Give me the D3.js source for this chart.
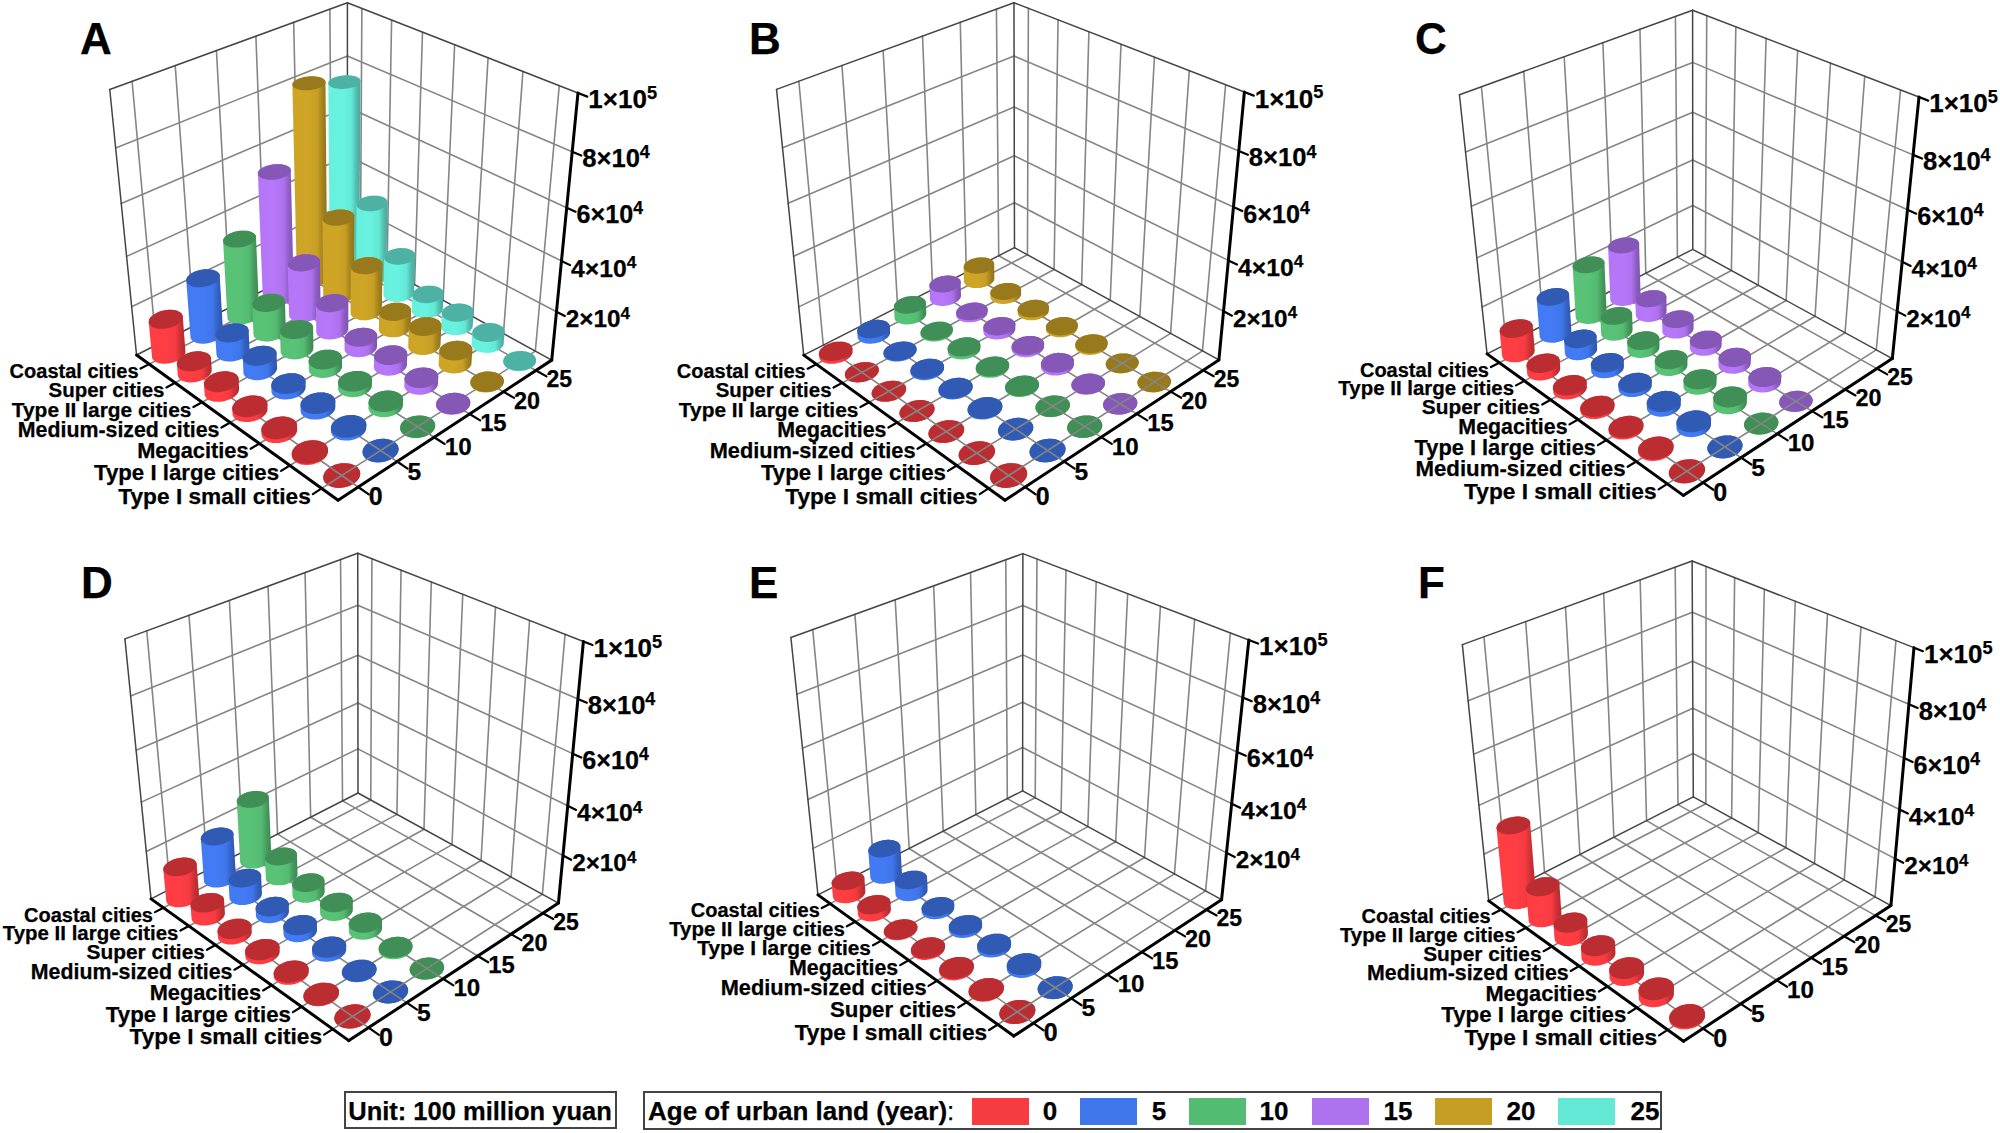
<!DOCTYPE html>
<html><head><meta charset="utf-8">
<script src="https://cdn.jsdelivr.net/npm/d3@7"></script>
<style>html,body{margin:0;padding:0;background:#fff}svg{display:block}text{font-family:"Liberation Sans",Arial,sans-serif;font-weight:700;fill:#000;stroke:#000;stroke-width:.25px}</style>
</head><body><div id="chart"></div>
<script>
const AGES=[0,5,10,15,20,25];
const AGE_COLORS=["#f63b41","#3f76ea","#54bb72","#ae72ee","#c69e24","#64e8d6"];
const ZTICKS=[20000,40000,60000,80000];
const ZMAX=100000;
const catsA=["Coastal cities","Super cities","Type II large cities","Medium-sized cities","Megacities","Type I large cities","Type I small cities"];
const catsB=["Coastal cities","Super cities","Type II large cities","Megacities","Medium-sized cities","Type I large cities","Type I small cities"];
const catsC=["Coastal cities","Type II large cities","Super cities","Megacities","Type I large cities","Medium-sized cities","Type I small cities"];
const catsD=["Coastal cities","Type II large cities","Super cities","Medium-sized cities","Megacities","Type I large cities","Type I small cities"];
const catsE=["Coastal cities","Type II large cities","Type I large cities","Megacities","Medium-sized cities","Super cities","Type I small cities"];
const catsF=catsD;
// one row per age, one value per city type (100 million yuan)
const valuesA=[
 [14500,4600,4000,2000,1600,500,50],
 [23500,8000,6000,2300,2300,1200,50],
 [32000,12500,8500,3500,2300,2100,50],
 [52000,21500,11500,4400,4400,2800,200],
 [80000,33000,19500,7000,8000,5400,200],
 [75000,32000,16000,6500,5800,4600,200]];
const valuesB=[
 [1200,100,100,100,100,50,50],
 [2300,350,600,350,350,50,50],
 [4600,600,1200,600,350,50,50],
 [5800,900,1700,900,1200,200,50],
 [6300,1700,1200,800,700,50,50]];
const valuesC=[
 [10500,3200,1700,900,700,600,50],
 [16000,5200,2500,1700,2000,2000,50],
 [22000,6900,3500,2900,2300,2900,50],
 [23000,6500,4600,2900,2900,2300,50]];
const valuesD=[
 [13200,5500,2300,1700,900,200,50],
 [18000,7500,2900,2900,1700,200,50],
 [26000,8600,4600,3700,2900,600,50]];
const valuesE=[
 [5700,3000,300,600,600,300,50],
 [11500,5200,1200,1200,1200,1200,50]];
const valuesF=[
 [31500,13200,5700,4000,2900,2900,600]];
const panels=[
 {name:"A",cats:catsA,values:valuesA,lx:80,ly:54,c:{L:[136.4,354.9],F:[338.1,500.3],R:[551.6,360],B:[347.6,247.7],TL:[109.9,89.6],TB:[347.2,2.7],TR:[578.1,93]}},
 {name:"B",cats:catsB,values:valuesB,lx:749,ly:54,c:{L:[803.5,354.9],F:[1005.2,500.3],R:[1218.7,360],B:[1014.7,247.8],TL:[776.6,89.6],TB:[1013.9,2.7],TR:[1244.4,91.9]}},
 {name:"C",cats:catsC,values:valuesC,lx:1415,ly:54,c:{L:[1487,353.9],F:[1683.1,495.5],R:[1892.3,358.3],B:[1693,249.5],TL:[1459.7,94.6],TB:[1692.2,10.1],TR:[1919.2,97.3]}},
 {name:"D",cats:catsD,values:valuesD,lx:81,ly:598,c:{L:[151,899.3],F:[348.8,1040.3],R:[558.3,903.4],B:[358.2,792.5],TL:[125,638.7],TB:[357.5,553.5],TR:[583.6,641.4]}},
 {name:"E",cats:catsE,values:valuesE,lx:749,ly:598,c:{L:[817.8,894.9],F:[1013.5,1036.2],R:[1221.5,899.3],B:[1023,791.1],TL:[791.3,637.3],TB:[1022.2,553.5],TR:[1249.2,640.4]}},
 {name:"F",cats:catsF,values:valuesF,lx:1418,ly:598,c:{L:[1488.7,900.7],F:[1683.7,1041.3],R:[1890.9,905.7],B:[1693.2,796.9],TL:[1462.2,644.8],TB:[1692.4,561],TR:[1913.8,647.5]}}
];
const legendEntries=AGES.map((a,i)=>({age:a,color:AGE_COLORS[i]}));

function solve(A,b){const n=b.length;const M=A.map((r,i)=>[...r,b[i]]);
 for(let i=0;i<n;i++){let p=i;for(let k=i+1;k<n;k++)if(Math.abs(M[k][i])>Math.abs(M[p][i]))p=k;[M[i],M[p]]=[M[p],M[i]];
  for(let k=i+1;k<n;k++){const f=M[k][i]/M[i][i];for(let j=i;j<=n;j++)M[k][j]-=f*M[i][j];}}
 const x=Array(n).fill(0);for(let i=n-1;i>=0;i--){let s=M[i][n];for(let j=i+1;j<n;j++)s-=M[i][j]*x[j];x[i]=s/M[i][i];}return x;}
function camera(c){
 const pts=[[0,0,0,c.L],[0,1,0,c.F],[1,1,0,c.R],[1,0,0,c.B],[0,0,1,c.TL],[1,0,1,c.TB],[1,1,1,c.TR]];
 const mx=d3.mean(pts,p=>p[3][0]),my=d3.mean(pts,p=>p[3][1]),S=200;
 const rows=[],rhs=[];
 pts.forEach(([u,v,z,[X,Y]])=>{const x=(X-mx)/S,y=(Y-my)/S;
  rows.push([u,v,z,1,0,0,0,0,-x*u,-x*v,-x*z]);rhs.push(x);
  rows.push([0,0,0,0,u,v,z,1,-y*u,-y*v,-y*z]);rhs.push(y);});
 const ATA=d3.range(11).map(i=>d3.range(11).map(j=>d3.sum(rows,r=>r[i]*r[j])));
 const ATb=d3.range(11).map(i=>d3.sum(rows,(r,k)=>r[i]*rhs[k]));
 const p=solve(ATA,ATb);
 return (u,v,z=0)=>{const w=p[8]*u+p[9]*v+p[10]*z+1;
  return [mx+S*(p[0]*u+p[1]*v+p[2]*z+p[3])/w,my+S*(p[4]*u+p[5]*v+p[6]*z+p[7])/w];};
}
const svg=d3.select("#chart").append("svg").attr("width",2000).attr("height",1133).attr("viewBox","0 0 2000 1133");
svg.append("rect").attr("width",2000).attr("height",1133).attr("fill","#fff");
const defs=svg.append("defs");
AGE_COLORS.forEach((col,i)=>{
 const g=defs.append("linearGradient").attr("id","side"+i).attr("x1",0).attr("x2",1).attr("y1",0).attr("y2",0);
 const c=d3.rgb(col);
 [[0,c.brighter(0.1)],[0.45,c.brighter(0.12)],[0.72,c],[0.88,c.darker(0.6)],[1,c.darker(0.9)]].forEach(([o,k])=>g.append("stop").attr("offset",o).attr("stop-color",k));
});
const line=d3.line();
const ageScale=d3.scaleBand().domain(AGES).range([0,1]);
const zScale=d3.scaleLinear().domain([0,ZMAX]).range([0,1]);
const RAD=0.36;
// the reference's labels grow toward the viewer
const catFont=d3.scaleLinear().domain([0,6]).range([20,22.7]);
const ageFont=d3.scaleLinear().domain([0,25]).range([25,23]);
const zFont=d3.scaleLinear().domain([20000,100000]).range([24.3,26]);

function drawPanel(p){
 const P=camera(p.c);
 const g=svg.append("g").attr("class","panel-"+p.name);
 const catScale=d3.scaleBand().domain(p.cats).range([0,1]);
 const U=a=>ageScale(a)+ageScale.bandwidth()/2;
 const V=c=>catScale(c)+catScale.bandwidth()/2;
 const seg=(a,b,col,w)=>g.append("path").attr("d",line([a,b])).attr("fill","none").attr("stroke",col).attr("stroke-width",w).attr("stroke-linecap","round");
 const GRID="#858585",FRAME="#454545";
 ZTICKS.forEach(t=>{const z=zScale(t);
  seg(P(0,0,z),P(1,0,z),GRID,1.6);seg(P(1,0,z),P(1,1,z),GRID,1.6);});
 AGES.forEach(a=>seg(P(U(a),0,0),P(U(a),0,1),GRID,1.6));
 p.cats.forEach(c=>seg(P(1,V(c),0),P(1,V(c),1),GRID,1.6));
 AGES.forEach(a=>seg(P(U(a),0,0),P(U(a),1,0),GRID,1.6));
 p.cats.forEach(c=>seg(P(0,V(c),0),P(1,V(c),0),GRID,1.6));
 [[[0,0,0],[0,0,1]],[[0,0,1],[1,0,1]],[[1,0,1],[1,1,1]],[[1,0,0],[1,0,1]],[[0,0,0],[1,0,0]],[[1,0,0],[1,1,0]]]
  .forEach(([a,b])=>seg(P(...a),P(...b),FRAME,1.5));
 seg(P(0,0,0),P(0,1,0),"#000",3);seg(P(0,1,0),P(1,1,0),"#000",3);seg(P(1,1,0),P(1,1,1),"#000",3);
 p.cats.forEach((c,i)=>{const a=P(0,V(c),0),b=P(-0.036,V(c),0);seg(a,b,"#000",2.2);
  g.append("text").attr("x",b[0]-2).attr("y",b[1]+9.5).attr("text-anchor","end").attr("font-size",catFont(i)).text(c);});
 AGES.forEach(a=>{const s=P(U(a),1,0),e=P(U(a),1.045,0);seg(s,e,"#000",2.2);
  g.append("text").attr("x",e[0]).attr("y",e[1]+11).attr("font-size",ageFont(a)).text(a);});
 [...ZTICKS,ZMAX].forEach(t=>{const z=zScale(t),s=P(1,1,z),e=P(1,1.035,z);seg(s,e,"#000",2.2);
  const exp=Math.floor(Math.log10(t)),m=t/10**exp,fs=zFont(t);
  const tx=g.append("text").attr("x",e[0]+1).attr("y",e[1]+0.36*fs+2.5).attr("font-size",fs);
  tx.append("tspan").text(m+"×10");
  tx.append("tspan").attr("font-size",fs*0.7).attr("dy",-fs*0.35).text(exp);});
 const du=RAD*ageScale.bandwidth(),dv=RAD*catScale.bandwidth();
 const bars=[];
 p.values.forEach((row,j)=>row.forEach((val,i)=>{
  const a=AGES[j],c=p.cats[i];bars.push({a,c,j,val,u:U(a),v:V(c),base:P(U(a),V(c),0)});}));
 bars.sort((x,y)=>d3.ascending(x.base[1],y.base[1]));
 const ANG=d3.range(0,2*Math.PI,Math.PI/24);
 bars.forEach(b=>{
  const z=zScale(b.val);
  const ring=h=>ANG.map(t=>P(b.u+du*Math.cos(t),b.v+dv*Math.sin(t),h));
  const top=ring(z);
  g.append("path").attr("d",line(d3.polygonHull([...ring(0),...top]))+"Z").attr("fill",`url(#side${b.j})`);
  g.append("path").attr("d",line(top)+"Z").attr("fill",d3.rgb(AGE_COLORS[b.j]).darker(0.75));
  if(b.val<=100){
   seg(P(b.u-du,b.v,0),P(b.u+du,b.v,0),GRID,1.6);
   seg(P(b.u,b.v-dv,0),P(b.u,b.v+dv,0),GRID,1.6);
  }
 });
 g.append("text").attr("x",p.lx).attr("y",p.ly).attr("font-size",44).text(p.name);
}
panels.forEach(drawPanel);

const lg=svg.append("g").attr("class","legend");
lg.append("rect").attr("x",345).attr("y",1092).attr("width",271).attr("height",36).attr("fill","#fff").attr("stroke","#444").attr("stroke-width",2);
lg.append("text").attr("x",480).attr("y",1120).attr("text-anchor","middle").attr("font-size",25.5).text("Unit: 100 million yuan");
lg.append("rect").attr("x",644).attr("y",1092).attr("width",1017).attr("height",37).attr("fill","#fff").attr("stroke","#444").attr("stroke-width",2);
lg.append("text").attr("x",648).attr("y",1120).attr("font-size",26).text("Age of urban land (year)").append("tspan").attr("font-weight",400).text(":");
const swXs=[972,1080,1189,1312,1435,1558],lbX=[1050,1159,1274,1398,1521,1645];
legendEntries.forEach((d,i)=>{
 lg.append("rect").attr("x",swXs[i]).attr("y",1098).attr("width",57).attr("height",27).attr("fill",d.color);
 lg.append("text").attr("x",lbX[i]).attr("y",1120).attr("text-anchor","middle").attr("font-size",26).text(d.age);
});
</script></body></html>
